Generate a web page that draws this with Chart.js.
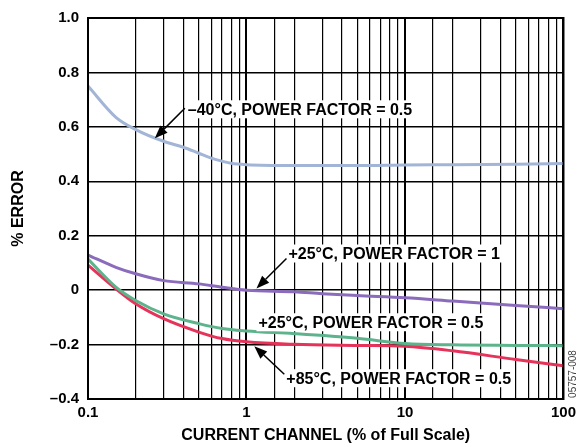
<!DOCTYPE html>
<html>
<head>
<meta charset="utf-8">
<script src="https://cdn.jsdelivr.net/npm/chart.js@4.4.0/dist/chart.umd.min.js"></script>
<style>
  html, body { margin: 0; padding: 0; background: #fff; }
  #wrap { width: 581px; height: 447px; }
</style>
</head>
<body>
<div id="wrap"><canvas id="errChart"></canvas></div>
<script>
// values (x = % of full scale, y = % error)
var xMinus40 = [0.1, 0.15, 0.2, 0.3, 0.4, 0.5, 0.6, 0.7, 0.8, 1, 2, 5, 10, 20, 50, 100];
var yMinus40 = [0.75, 0.635, 0.59, 0.547, 0.525, 0.503, 0.485, 0.474, 0.466, 0.461, 0.458, 0.458, 0.46, 0.461, 0.463, 0.465];

var xPf1 = [0.1, 0.15, 0.2, 0.3, 0.5, 0.7, 1, 2, 3, 5, 10, 20, 50, 100];
var yPf1 = [0.129, 0.084, 0.06, 0.035, 0.023, 0.011, 0.0, -0.006, -0.013, -0.02, -0.028, -0.04, -0.056, -0.068];

var xPf05 = [0.1, 0.15, 0.2, 0.3, 0.5, 0.7, 1, 2, 5, 10, 20, 50, 100];
var yPf05 = [0.114, 0.011, -0.038, -0.087, -0.123, -0.141, -0.15, -0.16, -0.177, -0.196, -0.201, -0.203, -0.204];

var x85 = [0.1, 0.15, 0.2, 0.3, 0.5, 0.7, 1, 2, 5, 10, 20, 50, 100];
var y85 = [0.092, 0.005, -0.05, -0.105, -0.154, -0.178, -0.19, -0.199, -0.203, -0.206, -0.223, -0.255, -0.278];

var xTickLabels = [0.1, 1, 10, 100];
var yTickLabels = { "1": "1.0", "0.8": "0.8", "0.6": "0.6", "0.4": "0.4", "0.2": "0.2", "0": "0", "-0.2": "\u20130.2", "-0.4": "\u20130.4" };

// callouts: tip in data units, tail / text offsets in pixels
var callouts = [
  { text: "\u201340\u00b0C, POWER FACTOR = 0.5", tip: [0.264, 0.558], tail: [30, -30], label: [33, -29] },
  { text: "+25\u00b0C, POWER FACTOR = 1", tip: [1.156, 0.006], tail: [30, -30], label: [32, -35] },
  { text: "+25\u00b0C, POWER FACTOR = 0.5", tip: [1.19, -0.118], tail: null, label: [0, 0] },
  { text: "+85\u00b0C, POWER FACTOR = 0.5", tip: [1.12, -0.206], tail: [30, 28], label: [32, 32] }
];

function toPoints(xs, ys) {
  return xs.map(function (x, i) { return { x: x, y: ys[i] }; });
}

function isDecade(v) {
  return xTickLabels.some(function (d) { return Math.abs(v - d) < d * 1e-6; });
}

var FONT = "'Liberation Sans', Arial, sans-serif";

var framePlugin = {
  id: "frame",
  afterDatasetsDraw: function (chart) {
    var ctx = chart.ctx;
    var a = chart.chartArea;
    var xs = chart.scales.x, ys = chart.scales.y;
    ctx.save();
    ctx.strokeStyle = "#000";
    ctx.lineWidth = 2;
    ctx.strokeRect(a.left, a.top, a.right - a.left, a.bottom - a.top);

    ctx.font = "bold 16px " + FONT;
    ctx.textBaseline = "middle";
    ctx.textAlign = "left";
    callouts.forEach(function (c) {
      var tx = xs.getPixelForValue(c.tip[0]);
      var ty = ys.getPixelForValue(c.tip[1]);
      var lx = tx + c.label[0], ly = ty + c.label[1];
      var w = ctx.measureText(c.text).width;
      ctx.fillStyle = "#fff";
      ctx.fillRect(lx - 2, ly - 9, w + 4, 18);
      ctx.fillStyle = "#000";
      ctx.fillText(c.text, lx, ly + 1);
      if (c.tail) {
        var sx = tx + c.tail[0], sy = ty + c.tail[1];
        var ang = Math.atan2(ty - sy, tx - sx);
        var hl = 13, hw = 5;
        var bx = tx - hl * Math.cos(ang), by = ty - hl * Math.sin(ang);
        ctx.strokeStyle = "#000";
        ctx.lineWidth = 1.5;
        ctx.beginPath();
        ctx.moveTo(sx, sy);
        ctx.lineTo(bx, by);
        ctx.stroke();
        ctx.beginPath();
        ctx.moveTo(tx, ty);
        ctx.lineTo(bx + hw * Math.sin(ang), by - hw * Math.cos(ang));
        ctx.lineTo(bx - hw * Math.sin(ang), by + hw * Math.cos(ang));
        ctx.closePath();
        ctx.fill();
      }
    });

    // axis titles
    ctx.fillStyle = "#000";
    ctx.font = "bold 16px " + FONT;
    ctx.textAlign = "center";
    ctx.fillText("CURRENT CHANNEL (% of Full Scale)", (a.left + a.right) / 2, 436);
    ctx.save();
    ctx.translate(19, (a.top + a.bottom) / 2);
    ctx.rotate(-Math.PI / 2);
    ctx.fillText("% ERROR", 0, 0);
    ctx.restore();

    // figure code
    ctx.save();
    ctx.fillStyle = "#444";
    ctx.font = "10px " + FONT;
    ctx.translate(573, 374);
    ctx.rotate(-Math.PI / 2);
    ctx.fillText("05757-008", 0, 0);
    ctx.restore();
    ctx.restore();
  }
};

new Chart(document.getElementById("errChart"), {
  type: "scatter",
  data: {
    datasets: [
      { data: toPoints(xMinus40, yMinus40), borderColor: "#a2b5d6" },
      { data: toPoints(xPf1, yPf1), borderColor: "#8b6bbb" },
      { data: toPoints(xPf05, yPf05), borderColor: "#5cb38c" },
      { data: toPoints(x85, y85), borderColor: "#e6335a" }
    ]
  },
  options: {
    responsive: true,
    maintainAspectRatio: false,
    animation: false,
    showLine: true,
    layout: { padding: { left: 0, top: 16, right: 16, bottom: 0 } },
    elements: {
      point: { radius: 0 },
      line: { borderWidth: 3, cubicInterpolationMode: "monotone", fill: false }
    },
    plugins: { legend: { display: false }, tooltip: { enabled: false } },
    scales: {
      x: {
        type: "logarithmic",
        min: 0.1,
        max: 100,
        afterFit: function (s) { s.height = 48; },
        border: { display: false },
        grid: {
          color: "#000",
          lineWidth: function (c) { return c.tick && isDecade(c.tick.value) ? 2 : 1.2; },
          drawTicks: false
        },
        ticks: {
          autoSkip: false,
          maxRotation: 0,
          padding: 5,
          color: "#000",
          font: { family: FONT, size: 15, weight: "bold" },
          callback: function (v) {
            for (var i = 0; i < xTickLabels.length; i++) {
              if (Math.abs(v - xTickLabels[i]) < xTickLabels[i] * 1e-6) return String(xTickLabels[i]);
            }
            return "";
          }
        }
      },
      y: {
        min: -0.4,
        max: 1.0,
        afterFit: function (s) { s.width = 88; },
        border: { display: false },
        grid: { color: "#000", lineWidth: 1.5, drawTicks: false },
        ticks: {
          stepSize: 0.2,
          padding: 9,
          color: "#000",
          font: { family: FONT, size: 15, weight: "bold" },
          callback: function (v) {
            var k = String(Math.round(v * 10) / 10);
            return yTickLabels[k] !== undefined ? yTickLabels[k] : "";
          }
        }
      }
    }
  },
  plugins: [framePlugin]
});
</script>
</body>
</html>
